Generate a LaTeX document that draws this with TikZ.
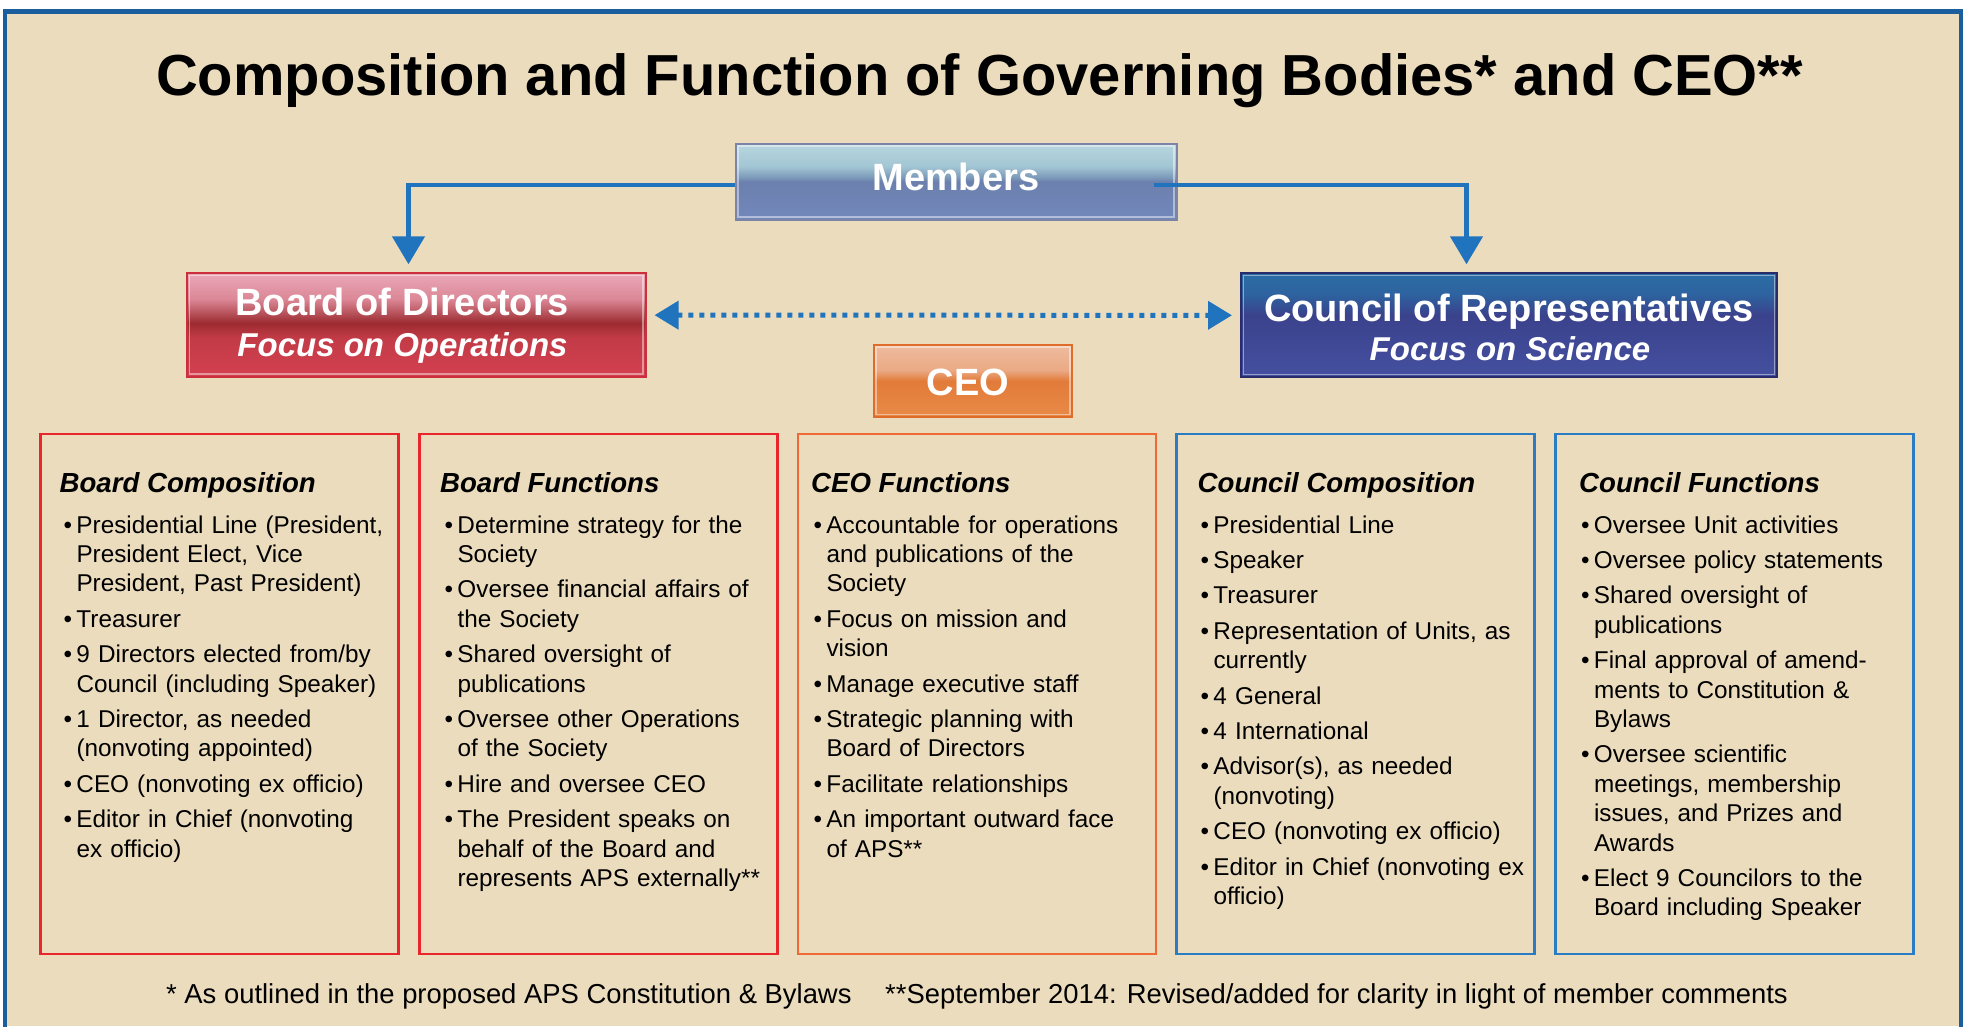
\documentclass[tikz,border=0pt]{standalone}
\usepackage{fontspec}
\setmainfont{Liberation Sans}
\usetikzlibrary{arrows.meta}

\definecolor{bgtan}{HTML}{EBDCBD}
\definecolor{frameblue}{HTML}{1B5E9E}
\definecolor{connblue}{HTML}{1F74BD}
\definecolor{boxred}{HTML}{E8262B}
\definecolor{boxorange}{HTML}{EF6A35}
\definecolor{boxblue}{HTML}{2A7CC5}
% board shading colours
\definecolor{bdA}{HTML}{EAA8B8}
\definecolor{bdB}{HTML}{DB8796}
\definecolor{bdC}{HTML}{9C2B30}
\definecolor{bdD}{HTML}{C23B47}
\definecolor{bdE}{HTML}{D4404F}
\definecolor{bdLine}{HTML}{CC2F3B}
% council shading colours
\definecolor{crA}{HTML}{2B6CA5}
\definecolor{crB}{HTML}{2D63A0}
\definecolor{crC}{HTML}{3B428C}
\definecolor{crD}{HTML}{4450A0}
\definecolor{crLine}{HTML}{282C6A}
% members shading colours
\definecolor{mbA}{HTML}{B8D7DF}
\definecolor{mbB}{HTML}{A3C6D4}
\definecolor{mbC}{HTML}{7A98B8}
\definecolor{mbD}{HTML}{6C80AE}
\definecolor{mbE}{HTML}{7288BB}
\definecolor{mbLine}{HTML}{7C84A8}
% ceo shading colours
\definecolor{ceA}{HTML}{EEBB9E}
\definecolor{ceB}{HTML}{EBAA85}
\definecolor{ceC}{HTML}{E27B3A}
\definecolor{ceD}{HTML}{E98A47}
\definecolor{ceLine}{HTML}{E06C2C}

\pgfdeclareverticalshading{boardshade}{100bp}{color(0bp)=(bdE); color(25bp)=(bdE); color(44bp)=(bdD); color(51bp)=(bdC); color(62.5bp)=(bdB); color(75bp)=(bdA); color(100bp)=(bdA)}
\pgfdeclareverticalshading{councilshade}{100bp}{color(0bp)=(crD); color(25bp)=(crD); color(55bp)=(crC); color(65bp)=(crB); color(75bp)=(crA); color(100bp)=(crA)}
\pgfdeclareverticalshading{membershade}{100bp}{color(0bp)=(mbE); color(25bp)=(mbE); color(50bp)=(mbD); color(52.5bp)=(mbC); color(60bp)=(mbB); color(75bp)=(mbA); color(100bp)=(mbA)}
\pgfdeclareverticalshading{ceoshade}{100bp}{color(0bp)=(ceD); color(25bp)=(ceD); color(50bp)=(ceC); color(57.5bp)=(ceB); color(75bp)=(ceA); color(100bp)=(ceA)}

\newlength{\bulgap}\setlength{\bulgap}{12.8pt}
\newcommand{\bitem}[1]{\noindent\hangindent=\bulgap\hangafter=1\makebox[\bulgap][l]{\textbullet}#1}
\newcommand{\bsep}{\par\vspace{6pt}}

\begin{document}
\begin{tikzpicture}[x=1pt,y=-1pt,
  colbox/.style={rectangle, line width=2.8pt, minimum width=358pt, minimum height=520pt, inner sep=0pt},
  colhead/.style={anchor=base west, inner sep=0pt, font=\fontsize{27.6}{30}\selectfont\bfseries\itshape, text=black},
  collist/.style={anchor=base west, inner sep=0pt, text width=345pt, align=left, font=\fontsize{24.3}{29.4}\selectfont, text=black},
  hdrbox/.style={rectangle, inner sep=0pt, line width=2pt},
  hdrtext/.style={anchor=base, inner sep=0pt, text=white, font=\fontsize{38}{40}\selectfont\bfseries},
  hdrsub/.style={anchor=base, inner sep=0pt, text=white, font=\fontsize{33}{35}\selectfont\bfseries\itshape},
  gloss/.style={draw=white, draw opacity=0.45, line width=1.2pt},
  conn/.style={draw=connblue, line width=4.6pt, -{Triangle[width=32pt,length=28pt]}, shorten >=8pt},
  dotconn/.style={draw=connblue, line width=5pt, dash pattern=on 5pt off 6pt,
     {Triangle[width=27.6pt,length=24pt]}-{Triangle[width=27.6pt,length=24pt]}, shorten <=8pt, shorten >=8pt},
  foot/.style={anchor=base west, inner sep=0pt, font=\fontsize{27.4}{30}\selectfont, text=black}
]
\useasboundingbox (0,0) rectangle (1971,1026);
\fill[white] (0,0) rectangle (1971,1026);
\fill[bgtan] (5,11.5) rectangle (1961,1026);
\draw[frameblue, line width=4.7pt] (5,1030) -- (5,11.5) -- (1961,11.5) -- (1961,1030);

% title
\node[anchor=base, inner sep=0pt, font=\fontsize{57.9}{60}\selectfont\bfseries] (title) at (979.5,95.5)
  {Composition and Function of Governing Bodies* and CEO**};

% header boxes
\node[hdrbox, shading=membershade, draw=mbLine, minimum width=441pt, minimum height=76pt] (members) at (956,181.5) {};
\node[hdrbox, shading=boardshade, draw=bdLine, minimum width=458.5pt, minimum height=103.7pt] (board) at (416.25,325.15) {};
\node[hdrbox, shading=councilshade, draw=crLine, minimum width=536pt, minimum height=104pt] (council) at (1509,325.3) {};
\node[hdrbox, shading=ceoshade, draw=ceLine, minimum width=198pt, minimum height=71.7pt] (ceo) at (973,380.9) {};

\draw[gloss] ([shift={(3.5pt,-3.5pt)}]members.north west) rectangle ([shift={(-3.5pt,3.5pt)}]members.south east);
\draw[gloss] ([shift={(3.5pt,-3.5pt)}]board.north west) rectangle ([shift={(-3.5pt,4pt)}]board.south east);
\draw[gloss] ([shift={(3.5pt,-3.5pt)}]council.north west) rectangle ([shift={(-3.5pt,4pt)}]council.south east);
\draw[gloss] ([shift={(3pt,-3pt)}]ceo.north west) rectangle ([shift={(-3pt,3pt)}]ceo.south east);

\node[hdrtext] (memberstxt) at (955.8,190) {Members};
\node[hdrtext] (boardtxt) at (402.2,315) {Board of Directors};
\node[hdrsub] (boardsub) at (402.5,356.7) {Focus on Operations};
\node[hdrtext] (counciltxt) at (1509,321.7) {Council of Representatives};
\node[hdrsub] (councilsub) at (1510,360) {Focus on Science};
\node[hdrtext] (ceotxt) at (968,395) {CEO};

% connectors
\draw[conn] ([yshift=-3.5pt]members.west) -| ([xshift=-7.75pt]board.north);
\draw[conn] ([xshift=-24pt,yshift=-3.5pt]members.east) -| ([xshift=-42.5pt]council.north);
\draw[dotconn] ([yshift=10pt]board.east) -- ([yshift=10pt]council.west);

% column boxes
\node[colbox, draw=boxred] (c1) at (219.5,694) {};
\node[colbox, draw=boxred] (c2) at (598.2,694) {};
\node[colbox, draw=boxorange] (c3) at (976.9,694) {};
\node[colbox, draw=boxblue] (c4) at (1355.6,694) {};
\node[colbox, draw=boxblue] (c5) at (1734.3,694) {};

% column 1
\node[colhead] (h1) at (59.5,492.5) {Board Composition};
\node[collist] (l1) at (63.5,533) {\setlength{\parskip}{0pt}%
\bitem{Presidential Line (President,\newline President Elect, Vice\newline President, Past President)}\bsep
\bitem{Treasurer}\bsep
\bitem{9 Directors elected from/by\newline Council (including Speaker)}\bsep
\bitem{1 Director, as needed\newline (nonvoting appointed)}\bsep
\bitem{CEO (nonvoting ex officio)}\bsep
\bitem{Editor in Chief (nonvoting\newline ex officio)}\par};

% column 2
\node[colhead] (h2) at (440,492.5) {Board Functions};
\node[collist] (l2) at (444.5,533) {\setlength{\parskip}{0pt}%
\bitem{Determine strategy for the\newline Society}\bsep
\bitem{Oversee financial affairs of\newline the Society}\bsep
\bitem{Shared oversight of\newline publications}\bsep
\bitem{Oversee other Operations\newline of the Society}\bsep
\bitem{Hire and oversee CEO}\bsep
\bitem{The President speaks on\newline behalf of the Board and\newline represents APS externally**}\par};

% column 3
\node[colhead] (h3) at (811,492.5) {CEO Functions};
\node[collist] (l3) at (813.5,533) {\setlength{\parskip}{0pt}%
\bitem{Accountable for operations\newline and publications of the\newline Society}\bsep
\bitem{Focus on mission and\newline vision}\bsep
\bitem{Manage executive staff}\bsep
\bitem{Strategic planning with\newline Board of Directors}\bsep
\bitem{Facilitate relationships}\bsep
\bitem{An important outward face\newline of APS**}\par};

% column 4
\node[colhead] (h4) at (1197.5,492.5) {Council Composition};
\node[collist] (l4) at (1200.5,533) {\setlength{\parskip}{0pt}%
\bitem{Presidential Line}\bsep
\bitem{Speaker}\bsep
\bitem{Treasurer}\bsep
\bitem{Representation of Units, as\newline currently}\bsep
\bitem{4 General}\bsep
\bitem{4 International}\bsep
\bitem{Advisor(s), as needed\newline (nonvoting)}\bsep
\bitem{CEO (nonvoting ex officio)}\bsep
\bitem{Editor in Chief (nonvoting ex\newline officio)}\par};

% column 5
\node[colhead] (h5) at (1579,492.5) {Council Functions};
\node[collist] (l5) at (1581,533) {\setlength{\parskip}{0pt}%
\bitem{Oversee Unit activities}\bsep
\bitem{Oversee policy statements}\bsep
\bitem{Shared oversight of\newline publications}\bsep
\bitem{Final approval of amend-\newline ments to Constitution \&\newline Bylaws}\bsep
\bitem{Oversee scientific\newline meetings, membership\newline issues, and Prizes and\newline Awards}\bsep
\bitem{Elect 9 Councilors to the\newline Board including Speaker}\par};

% footer
\node[foot] (foot1) at (166,1003.3) {* As outlined in the proposed APS Constitution \& Bylaws};
\node[foot] (foot2) at (885,1003.3) {**September 2014: Revised/added for clarity in light of member comments};
\end{tikzpicture}
\end{document}
